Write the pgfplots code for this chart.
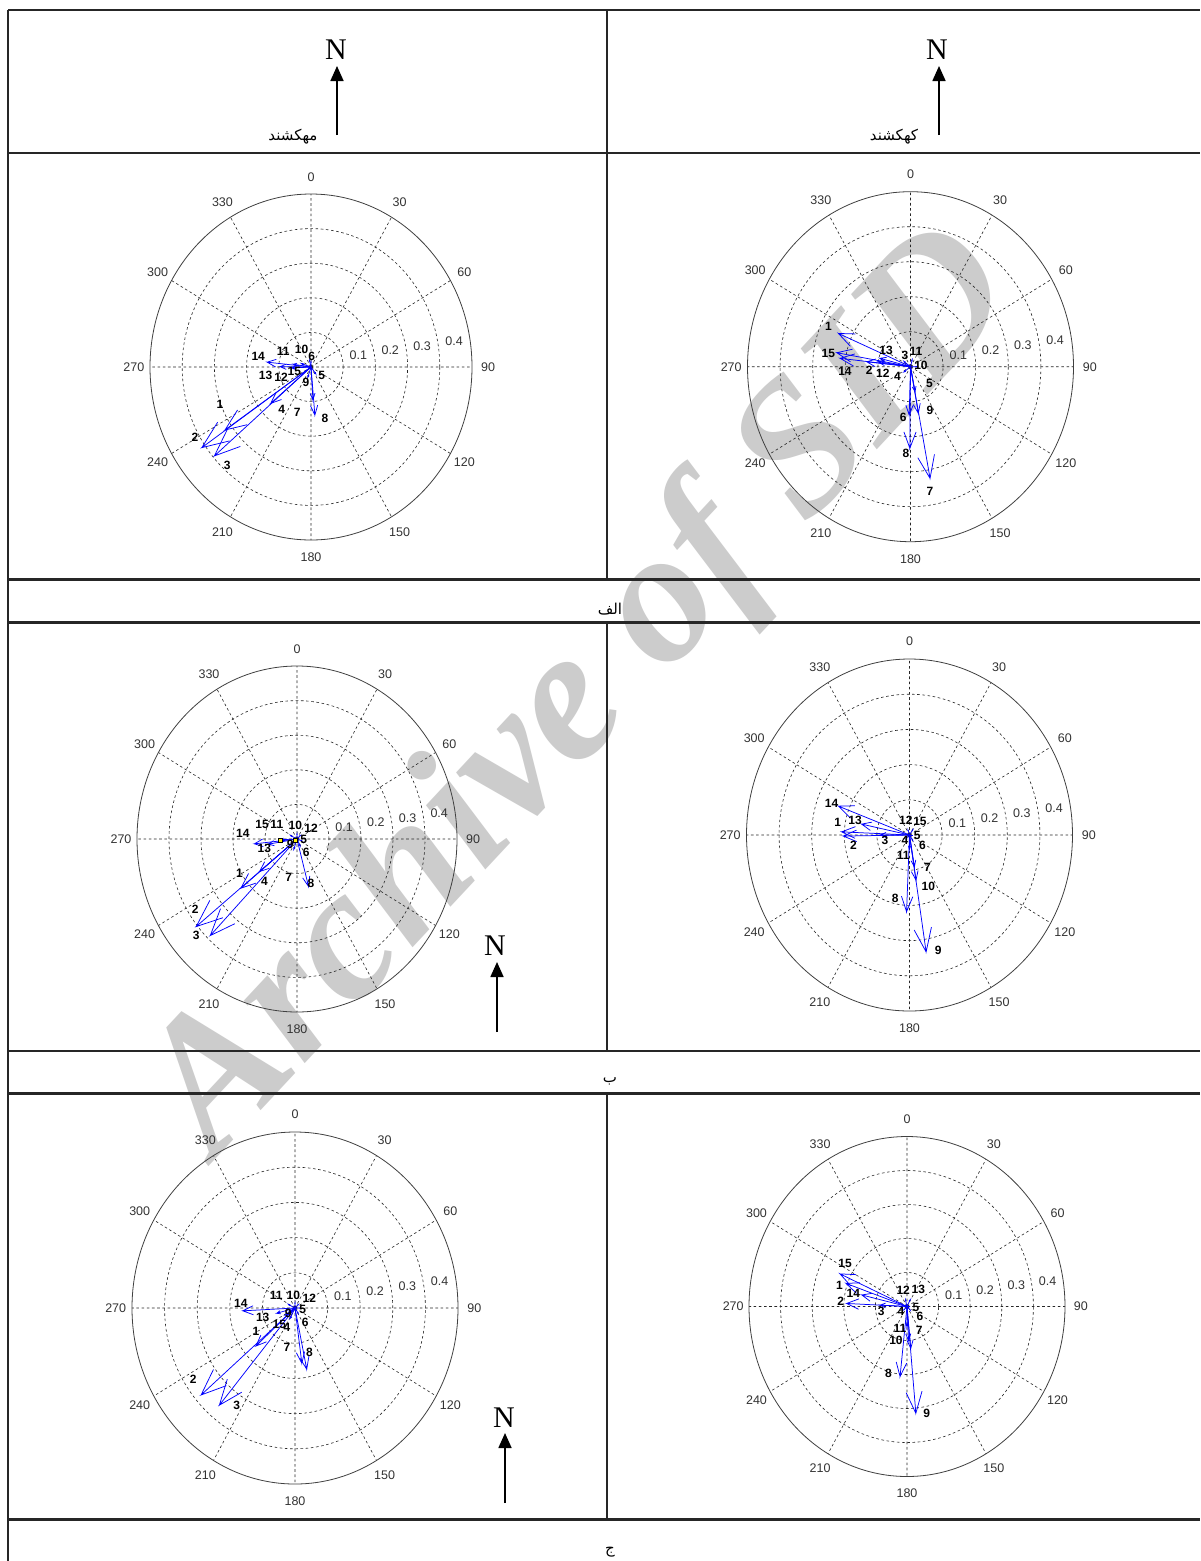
\documentclass[border=0pt]{standalone}
\usepackage{fontspec}
\setmainfont{Liberation Sans}
\newfontfamily\seriffont{Liberation Serif}
\newfontfamily\arabicfont[Script=Arabic]{DejaVu Sans}
\usepackage{pgfplots}
\usepackage{pgfplotstable}
\usepgfplotslibrary{polar}
\usetikzlibrary{arrows.meta}
\pgfplotsset{compat=1.18}
\TeXXeTstate=1

% compass angle labels (placed at 1.1 x outer radius)
\pgfplotstableread{
a r
0 0.55
30 0.55
60 0.55
90 0.55
120 0.55
150 0.55
180 0.55
210 0.55
240 0.55
270 0.55
300 0.55
330 0.55
}\angtab
% ring labels (cartesian data units, MATLAB style at 82 deg)
\pgfplotstableread{
x y lab
0.104 0.0146 0.1
0.203 0.0285 0.2
0.302 0.0424 0.3
0.401 0.0564 0.4
}\ringtab

% ---------- arrow tips (x = east, y = north) ----------
\pgfplotstableread{
x y
-0.267 -0.182
-0.339 -0.233
-0.300 -0.257
-0.125 -0.105
0.015 -0.020
0.000 0.015
-0.010 -0.030
0.012 -0.139
0.006 -0.095
-0.005 0.020
-0.030 0.010
-0.060 -0.003
-0.096 0.001
-0.136 0.014
-0.055 0.008
}\arrTL
\pgfplotstableread{
x y lab
-0.283 -0.108 1
-0.360 -0.202 2
-0.260 -0.283 3
-0.091 -0.122 4
0.033 -0.025 5
0.002 0.030 6
-0.043 -0.132 7
0.043 -0.148 8
-0.016 -0.045 9
-0.029 0.052 10
-0.086 0.044 11
-0.093 -0.030 12
-0.141 -0.025 13
-0.164 0.030 14
-0.052 -0.014 15
}\labTL

\pgfplotstableread{
x y
-0.221 0.095
-0.134 0.014
-0.020 0.015
-0.020 -0.015
0.014 -0.071
-0.004 -0.138
0.060 -0.319
-0.002 -0.233
0.024 -0.133
0.020 0.000
0.005 0.020
-0.099 0.014
-0.094 0.024
-0.216 0.024
-0.226 0.040
}\arrTR
\pgfplotstableread{
x y lab
-0.252 0.114 1
-0.127 -0.009 2
-0.017 0.033 3
-0.040 -0.029 4
0.058 -0.047 5
-0.022 -0.145 6
0.060 -0.357 7
-0.014 -0.249 8
0.060 -0.124 9
0.032 0.003 10
0.017 0.043 11
-0.085 -0.019 12
-0.075 0.048 13
-0.201 -0.014 14
-0.252 0.038 15
}\labTR

\pgfplotstableread{
x y
-0.175 -0.142
-0.315 -0.253
-0.271 -0.279
-0.117 -0.094
0.015 -0.005
0.010 -0.020
-0.010 -0.030
0.036 -0.137
-0.015 -0.010
0.000 0.015
-0.020 0.010
0.010 0.010
-0.090 -0.015
-0.133 -0.014
-0.052 -0.002
}\arrML
\pgfplotstableread{
x y lab
-0.180 -0.100 1
-0.318 -0.204 2
-0.315 -0.279 3
-0.102 -0.123 4
0.021 0.000 5
0.029 -0.039 6
-0.026 -0.110 7
0.044 -0.127 8
-0.021 -0.016 9
-0.005 0.038 10
-0.063 0.041 11
0.044 0.032 12
-0.102 -0.026 13
-0.169 0.017 14
-0.109 0.041 15
}\labML
% small yellow markers near the centre of the middle-left plot
\pgfplotstableread{
x y
-0.053 -0.003
-0.006 -0.003
}\markML

\pgfplotstableread{
x y
-0.208 0.009
-0.203 -0.003
-0.090 0.000
-0.010 -0.010
0.010 0.000
0.010 -0.015
0.015 -0.090
-0.009 -0.218
0.051 -0.332
0.020 -0.128
0.000 -0.040
-0.005 0.015
-0.147 0.031
-0.218 0.082
0.010 0.015
}\arrMR
\pgfplotstableread{
x y lab
-0.220 0.035 1
-0.172 -0.028 2
-0.075 -0.014 3
-0.014 -0.016 4
0.024 0.000 5
0.040 -0.028 6
0.055 -0.092 7
-0.044 -0.180 8
0.088 -0.327 9
0.058 -0.145 10
-0.019 -0.057 11
-0.011 0.043 12
-0.167 0.043 13
-0.239 0.090 14
0.032 0.038 15
}\labMR

\pgfplotstableread{
x y
-0.120 -0.108
-0.288 -0.247
-0.232 -0.276
-0.015 -0.030
0.015 0.000
0.010 -0.015
0.021 -0.157
0.036 -0.174
-0.015 -0.010
0.000 0.015
-0.020 0.010
0.010 0.010
-0.056 -0.015
-0.160 -0.008
-0.030 -0.020
}\arrBL
\pgfplotstableread{
x y lab
-0.120 -0.067 1
-0.312 -0.203 2
-0.179 -0.278 3
-0.025 -0.055 4
0.024 -0.004 5
0.031 -0.042 6
-0.025 -0.112 7
0.044 -0.127 8
-0.021 -0.015 9
-0.005 0.037 10
-0.058 0.037 11
0.044 0.028 12
-0.099 -0.026 13
-0.166 0.013 14
-0.048 -0.048 15
}\labBL

\pgfplotstableread{
x y
-0.193 0.068
-0.191 0.009
-0.085 0.004
-0.010 -0.010
0.010 0.000
0.010 -0.010
0.012 -0.123
-0.022 -0.206
0.028 -0.314
0.005 -0.100
0.000 -0.060
-0.005 0.020
0.010 0.020
-0.143 0.034
-0.212 0.096
}\arrBR
\pgfplotstableread{
x y lab
-0.214 0.063 1
-0.210 0.014 2
-0.082 -0.015 3
-0.019 -0.015 4
0.028 -0.002 5
0.041 -0.030 6
0.039 -0.071 7
-0.059 -0.196 8
0.062 -0.314 9
-0.035 -0.101 10
-0.022 -0.064 11
-0.012 0.049 12
0.036 0.049 13
-0.170 0.039 14
-0.196 0.127 15
}\labBR

\newcommand\anglefont{\fontsize{12.5}{12.5}\selectfont}
\newcommand\numfont{\bfseries\fontsize{12}{12}\selectfont}

\pgfplotsset{
  compassstyle/.style={
    scale only axis, clip=false,
    xmin=0, xmax=360, ymin=0, ymax=0.5,
    xtick={0,30,...,330}, ytick={0.1,0.2,0.3,0.4},
    xticklabels={}, yticklabels={},
    xmajorgrids, ymajorgrids,
    major grid style={black!85, line width=0.6pt, dash pattern=on 2.6pt off 2.6pt},
    separate axis lines,
    x axis line style={black!75, line width=0.8pt},
    y axis line style={draw=none},
    major tick length=0pt,
  },
  arrowline/.style={blue, line width=0.75pt, line join=miter, mark=none},
}

% MATLAB compass arrows: barbs at 0.8 of length, +-0.08 sideways
\newcommand\drawarrows[1]{%
  \pgfplotstablegetrowsof{#1}%
  \pgfmathtruncatemacro\nrows{\pgfplotsretval-1}%
  \pgfplotsforeachungrouped \ii in {0,...,\nrows}{%
    \pgfplotstablegetelem{\ii}{x}\of{#1}\let\ax\pgfplotsretval
    \pgfplotstablegetelem{\ii}{y}\of{#1}\let\ay\pgfplotsretval
    \pgfmathsetmacro\bxa{0.8*\ax-0.08*\ay}%
    \pgfmathsetmacro\bya{0.8*\ay+0.08*\ax}%
    \pgfmathsetmacro\bxb{0.8*\ax+0.08*\ay}%
    \pgfmathsetmacro\byb{0.8*\ay-0.08*\ax}%
    \edef\temp{\noexpand\addplot[arrowline, data cs=cart] coordinates {(0,0) (\ax,\ay) (\bxa,\bya) (\ax,\ay) (\bxb,\byb)};}%
    \temp
  }%
}

\newcommand\compass[7]{%
\begin{polaraxis}[compassstyle, at={(#1pt,-#2pt)}, anchor=center, width=#3pt, height=#4pt]
  \addplot[only marks, mark=none, nodes near coords, point meta=explicit symbolic,
    every node near coord/.append style={anchor=center, font=\anglefont, text=black!80, inner sep=0pt}]
    table[x expr=90-\thisrow{a}, y=r, meta=a] {\angtab};
  \addplot[only marks, mark=none, data cs=cart, nodes near coords, point meta=explicit symbolic,
    every node near coord/.append style={anchor=south west, font=\anglefont, text=black!80, inner sep=0pt, xshift=5pt, yshift=2pt}]
    table[x=x, y=y, meta=lab] {\ringtab};
  \drawarrows{#5}
  #7
  \addplot[only marks, mark=none, data cs=cart, nodes near coords, point meta=explicit symbolic,
    every node near coord/.append style={anchor=center, font=\numfont, text=black, inner sep=0pt}]
    table[x=x, y=y, meta=lab] {#6};
\end{polaraxis}}

\begin{document}
\begin{tikzpicture}[x=1pt,y=1pt]
\useasboundingbox (0,0) rectangle (1200,-1561);
\fill[white] (0,0) rectangle (1200,-1561);
% watermark
\node[rotate=47, text=black!20, font=\seriffont\bfseries\itshape\fontsize{190}{190}\selectfont, inner sep=0pt] at (585,-695) {Archive of SID};
% table grid
\begin{scope}[line width=2.6pt, draw=black!85]
  \draw (8,-10) -- (1200,-10);
  \draw (8,-153) -- (1200,-153);
  \draw (8,-579.5) -- (1200,-579.5);
  \draw (8,-622.5) -- (1200,-622.5);
  \draw (8,-1051) -- (1200,-1051);
  \draw (8,-1093.5) -- (1200,-1093.5);
  \draw (8,-1519.5) -- (1200,-1519.5);
  \draw (8,-10) -- (8,-1561);
  \draw (607,-10) -- (607,-579.5);
  \draw (607,-622.5) -- (607,-1051);
  \draw (607,-1093.5) -- (607,-1519.5);
\end{scope}
% header: north arrows and names
\begin{scope}[line width=1.7pt, -{Triangle[length=15pt,width=13pt]}]
  \draw (337,-135) -- (337,-66);
  \draw (939,-135) -- (939,-66);
  \draw (497,-1032) -- (497,-962);
  \draw (505,-1503) -- (505,-1433);
\end{scope}
\begin{scope}[font=\seriffont\fontsize{30}{30}\selectfont, inner sep=0pt]
  \node at (336,-50) {N};
  \node at (937,-50) {N};
  \node at (495,-946) {N};
  \node at (504,-1418) {N};
\end{scope}
\begin{scope}[font=\arabicfont\fontsize{15}{15}\selectfont, inner sep=0pt]
  \node at (293,-137) {\beginR مهکشند\endR};
  \node at (894,-137) {\beginR کهکشند\endR};
  \node at (610,-609) {\beginR الف\endR};
  \node at (610,-1081) {\beginR ب\endR};
  \node at (610,-1552) {\beginR ج\endR};
\end{scope}
% compass plots
\compass{311}{367}{322}{346}{\arrTL}{\labTL}{}
\compass{910.5}{366.7}{326}{350}{\arrTR}{\labTR}{}
\compass{297}{839}{320}{346}{\arrML}{\labML}{\addplot[only marks, data cs=cart, mark=square*, mark size=2.2pt, mark options={fill=yellow, draw=black, line width=0.6pt}] table[x=x, y=y] {\markML};}
\compass{909.5}{835}{326}{352}{\arrMR}{\labMR}{}
\compass{295}{1308}{326}{352}{\arrBL}{\labBL}{}
\compass{907}{1306.5}{316}{340}{\arrBR}{\labBR}{}
\end{tikzpicture}
\end{document}
